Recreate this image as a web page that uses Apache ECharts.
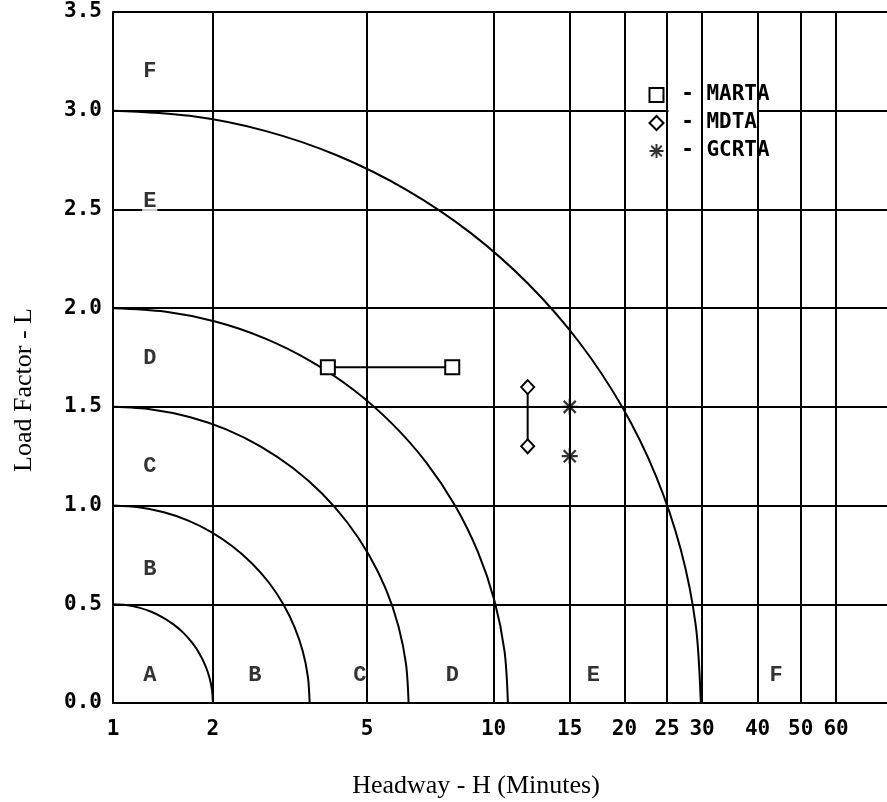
<!DOCTYPE html>
<html>
<head>
<meta charset="utf-8">
<script src="https://cdn.jsdelivr.net/npm/echarts@6/dist/echarts.min.js"></script>
<style>
html, body { margin: 0; padding: 0; background: #fff; }
#chart { width: 887px; height: 802px; }
</style>
</head>
<body>
<div id="chart"></div>
<script>
// headway axis is a log scale of (H + 0.5), tick labels as printed
var headwayTicks = [1, 2, 5, 10, 15, 20, 25, 30, 40, 50, 60];
var headwayMax = 78;
var SHIFT = 0.5;

// level of service boundaries (headway / load factor)
var curveAH = [1, 1.103, 1.212, 1.324, 1.437, 1.547, 1.653, 1.75, 1.834, 1.904, 1.956, 1.989, 2.0];
var curveAL = [0.5, 0.496, 0.483, 0.462, 0.433, 0.397, 0.354, 0.304, 0.25, 0.191, 0.129, 0.065, 0];
var curveBH = [1, 1.21, 1.446, 1.704, 1.98, 2.266, 2.554, 2.831, 3.083, 3.297, 3.461, 3.564, 3.6];
var curveBL = [1, 0.991, 0.966, 0.924, 0.866, 0.793, 0.707, 0.609, 0.5, 0.383, 0.259, 0.131, 0];
var curveCH = [1, 1.327, 1.718, 2.175, 2.694, 3.264, 3.867, 4.476, 5.053, 5.561, 5.958, 6.212, 6.3];
var curveCL = [1.5, 1.487, 1.449, 1.386, 1.299, 1.19, 1.061, 0.913, 0.75, 0.574, 0.388, 0.196, 0];
var curveDH = [1, 1.452, 2.03, 2.749, 3.617, 4.629, 5.756, 6.946, 8.122, 9.191, 10.049, 10.607, 10.8];
var curveDL = [2, 1.983, 1.932, 1.848, 1.732, 1.587, 1.414, 1.218, 1.0, 0.765, 0.518, 0.261, 0];
var curveEH = [1, 1.72, 2.765, 4.239, 6.241, 8.85, 12.064, 15.786, 19.758, 23.607, 26.853, 29.029, 29.8];
var curveEL = [3, 2.974, 2.898, 2.772, 2.598, 2.38, 2.121, 1.826, 1.5, 1.148, 0.776, 0.392, 0];

// observed systems
var martaH = [4, 8];
var martaL = [1.7, 1.7];
var mdtaH = [12, 12];
var mdtaL = [1.6, 1.3];
var gcrtaH = [15, 15];
var gcrtaL = [1.5, 1.25];

// zone letters
var zoneText = ['F', 'E', 'D', 'C', 'B', 'A', 'B', 'C', 'D', 'E', 'F'];
var zoneH = [1.31, 1.31, 1.31, 1.31, 1.31, 1.31, 2.6, 4.8, 8, 17, 44];
var zoneL = [3.2, 2.54, 1.745, 1.2, 0.674, 0.14, 0.14, 0.14, 0.14, 0.14, 0.14];

var MONO = '"DejaVu Sans Mono", monospace';
var SERIF = '"Liberation Serif", "Times New Roman", serif';
var STAR = 'path://M8,0L8,16M0,8L16,8M2,2L14,14M2,14L14,2';

function pts(hs, ls) {
    return hs.map(function (h, i) { return [h + SHIFT, ls[i]]; });
}

var chart = echarts.init(document.getElementById('chart'));

function curve(hs, ls) {
    return {
        type: 'line',
        data: pts(hs, ls),
        smooth: 0.3,
        symbol: 'none',
        silent: true,
        lineStyle: { color: '#000', width: 2 }
    };
}

var zoneData = zoneText.map(function (t, i) {
    var item = { name: t, value: [zoneH[i] + SHIFT, zoneL[i]] };
    if (i === 1) item.label = { backgroundColor: '#fff', padding: [0, 1] };
    return item;
});

var option = {
    animation: false,
    backgroundColor: '#fff',
    grid: { left: 113, right: 0, top: 12, bottom: 99 },
    xAxis: {
        type: 'log',
        logBase: 10,
        min: headwayTicks[0] + SHIFT,
        max: headwayMax + SHIFT,
        axisLine: { show: true, onZero: false, lineStyle: { color: '#000', width: 2 } },
        axisTick: { show: false },
        axisLabel: { show: false },
        splitLine: { show: false }
    },
    yAxis: {
        type: 'value',
        min: 0,
        max: 3.5,
        interval: 0.5,
        axisLine: { show: true, lineStyle: { color: '#000', width: 2 } },
        axisTick: { show: false },
        axisLabel: {
            formatter: function (v) { return v.toFixed(1); },
            fontFamily: MONO, fontWeight: 'bold', fontSize: 21, color: '#000', margin: 11
        },
        splitLine: { show: true, lineStyle: { color: '#000', width: 2 } }
    },
    legend: {
        orient: 'vertical',
        left: 647,
        top: 81,
        padding: 0,
        itemGap: 0,
        itemWidth: 14,
        itemHeight: 14,
        selectedMode: false,
        formatter: function (n) { return ' - ' + n; },
        textStyle: {
            fontFamily: MONO, fontWeight: 'bold', fontSize: 21, lineHeight: 21, color: '#000',
            backgroundColor: '#fff', padding: [3, 0, 4, 0]
        },
        data: [
            { name: 'MARTA', icon: 'rect', itemStyle: { color: '#fff', borderColor: '#000', borderWidth: 2 } },
            { name: 'MDTA', icon: 'diamond', itemStyle: { color: '#fff', borderColor: '#000', borderWidth: 2 } },
            { name: 'GCRTA', icon: STAR, itemStyle: { color: 'none', borderColor: '#000', borderWidth: 2 } }
        ]
    },
    graphic: [
        {
            type: 'text', x: 476, y: 786,
            style: { text: 'Headway - H (Minutes)', font: '26px ' + SERIF, fill: '#000', align: 'center', verticalAlign: 'middle' }
        },
        {
            type: 'text', x: 24, y: 390, rotation: Math.PI / 2,
            style: { text: 'Load Factor - L', font: '26px ' + SERIF, fill: '#000', align: 'center', verticalAlign: 'middle' }
        }
    ],
    series: [
        curve(curveAH, curveAL),
        curve(curveBH, curveBL),
        curve(curveCH, curveCL),
        curve(curveDH, curveDL),
        curve(curveEH, curveEL),
        {
            name: 'MARTA',
            type: 'line',
            data: pts(martaH, martaL),
            symbol: 'rect',
            symbolSize: 14,
            itemStyle: { color: '#fff', borderColor: '#000', borderWidth: 2 },
            lineStyle: { color: '#000', width: 2 },
            markLine: {
                silent: true,
                symbol: ['none', 'none'],
                lineStyle: { color: '#000', width: 2, type: 'solid' },
                label: {
                    show: true, position: 'start', formatter: '{b}', distance: 16,
                    fontFamily: MONO, fontWeight: 'bold', fontSize: 21, color: '#000'
                },
                emphasis: { disabled: true },
                data: headwayTicks.map(function (h) { return { name: String(h), xAxis: h + SHIFT }; })
            }
        },
        {
            name: 'MDTA',
            type: 'line',
            data: pts(mdtaH, mdtaL),
            symbol: 'diamond',
            symbolSize: [13, 14],
            itemStyle: { color: '#fff', borderColor: '#000', borderWidth: 2 },
            lineStyle: { color: '#000', width: 2 }
        },
        {
            name: 'GCRTA',
            type: 'scatter',
            data: pts(gcrtaH, gcrtaL),
            symbol: STAR,
            symbolSize: 16,
            itemStyle: { color: 'none', borderColor: '#000', borderWidth: 2.2 }
        },
        {
            type: 'scatter',
            data: zoneData,
            symbolSize: 0,
            silent: true,
            z: 6,
            itemStyle: { color: 'transparent' },
            label: {
                show: true, position: 'inside', formatter: '{b}',
                fontFamily: '"Liberation Mono", monospace', fontWeight: 'bold', fontSize: 22, color: '#000'
            }
        }
    ]
};

chart.setOption(option);
</script>
</body>
</html>
